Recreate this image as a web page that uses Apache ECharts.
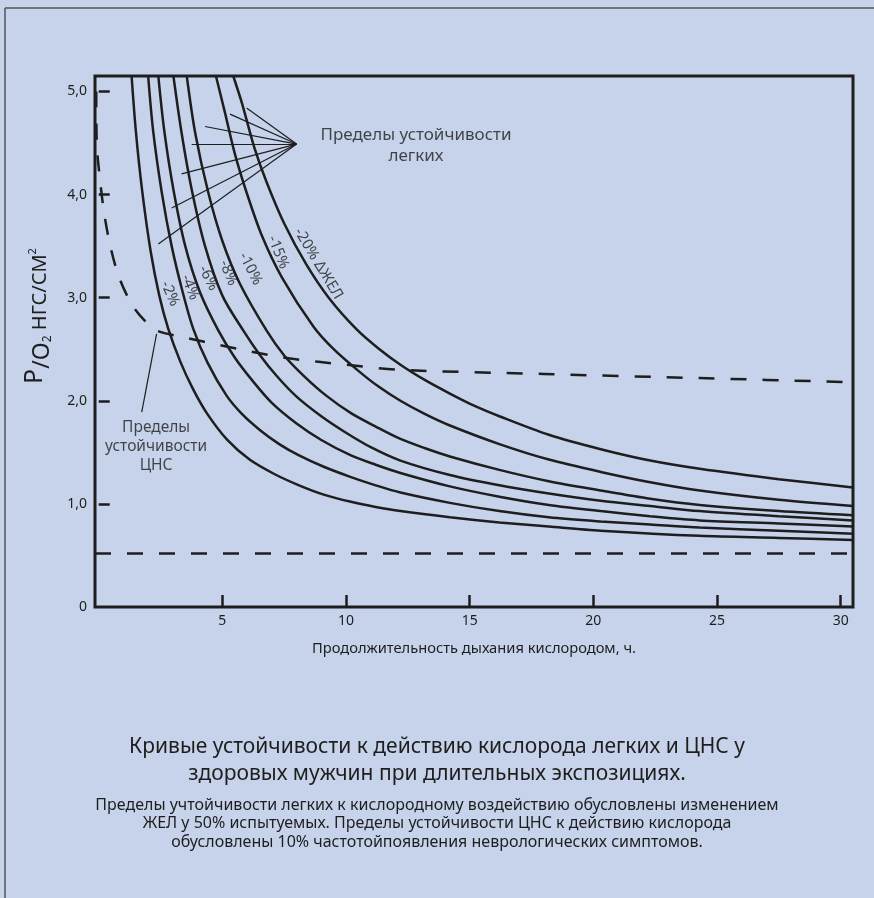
<!DOCTYPE html>
<html>
<head>
<meta charset="utf-8">
<script src="https://cdn.jsdelivr.net/npm/echarts@6/dist/echarts.min.js"></script>
<style>
  html, body { margin: 0; padding: 0; background: #c6d3ea; }
  #chart { width: 874px; height: 898px; }
</style>
</head>
<body>
<div id="chart"></div>
<script>
// ticks
const xTicks = [5, 10, 15, 20, 25, 30];
const yTicks = [0, 1, 2, 3, 4, 5];

// lung tolerance curves (hours, kgf/cm2)
const vc2 = [[1.33,5.15],[1.5,4.62],[1.75,4.05],[2.1,3.45],[2.45,3.02],[2.81,2.7],[3.3,2.38],[3.8,2.12],[4.37,1.88],[5.2,1.62],[6.1,1.43],[7.1,1.29],[8.1,1.18],[9.1,1.09],[10.2,1.02],[11.2,0.97],[12.2,0.93],[14.2,0.87],[16.2,0.82],[18.2,0.78],[20.3,0.74],[24.3,0.69],[27.5,0.67],[30.5,0.65]];
const vc4 = [[2.0,5.15],[2.2,4.62],[2.55,4.02],[2.95,3.5],[3.4,3.05],[3.82,2.7],[4.4,2.37],[5.17,2.05],[5.8,1.87],[6.5,1.72],[7.3,1.58],[8.1,1.47],[9.1,1.36],[10.2,1.26],[11.2,1.18],[12.2,1.11],[14.2,1.01],[16.2,0.93],[18.2,0.87],[20.3,0.83],[22.3,0.8],[24.3,0.77],[27.5,0.74],[30.5,0.71]];
const vc6 = [[2.41,5.15],[2.65,4.62],[3.02,4.05],[3.5,3.5],[4.1,3.05],[4.84,2.68],[5.5,2.42],[6.2,2.2],[7.0,1.98],[8.0,1.78],[9.0,1.62],[10.2,1.47],[11.2,1.38],[12.2,1.3],[14.2,1.17],[16.2,1.07],[18.2,0.99],[20.3,0.93],[22.3,0.88],[24.3,0.84],[27.5,0.81],[30.5,0.78]];
const vc8 = [[3.02,5.15],[3.35,4.6],[3.76,4.05],[4.3,3.5],[5.0,3.02],[5.85,2.68],[6.5,2.45],[7.2,2.24],[8.0,2.04],[9.0,1.85],[10.0,1.69],[11.0,1.55],[12.2,1.42],[14.2,1.28],[16.2,1.18],[18.2,1.1],[20.3,1.03],[22.3,0.98],[24.3,0.93],[27.5,0.88],[30.5,0.84]];
const vc10 = [[3.56,5.15],[3.9,4.6],[4.43,4.02],[5.0,3.55],[5.7,3.14],[6.79,2.68],[7.5,2.44],[8.3,2.24],[9.2,2.05],[10.2,1.88],[11.2,1.75],[12.2,1.63],[13.2,1.54],[14.2,1.46],[16.2,1.33],[18.2,1.22],[20.3,1.13],[22.3,1.05],[24.3,0.99],[27.5,0.93],[30.5,0.89]];
const vc15 = [[4.74,5.15],[5.1,4.8],[5.5,4.4],[5.98,4.02],[6.6,3.6],[7.4,3.2],[8.68,2.72],[9.5,2.5],[10.5,2.29],[11.3,2.14],[12.2,2.0],[13.2,1.87],[14.2,1.76],[16.2,1.58],[18.2,1.43],[20.3,1.31],[22.3,1.21],[24.3,1.13],[27.5,1.04],[30.5,0.98]];
const vc20 = [[5.44,5.15],[5.8,4.88],[6.3,4.45],[6.79,4.12],[7.5,3.72],[8.4,3.32],[9.3,3.0],[10.4,2.7],[11.3,2.51],[12.2,2.35],[13.2,2.2],[14.2,2.07],[15.2,1.95],[16.2,1.85],[18.2,1.67],[20.3,1.53],[22.3,1.42],[24.3,1.34],[27.5,1.24],[30.5,1.16]];
const lungCurves = [vc2, vc4, vc6, vc8, vc10, vc15, vc20];
const curveNames = ['-2%', '-4%', '-6%', '-8%', '-10%', '-15%', '-20% ΔЖЕЛ'];
const curveLabelAt = [[2.88,3.04],[3.69,3.1],[4.43,3.19],[5.24,3.24],[6.13,3.28],[7.26,3.44],[8.88,3.33]];
const curveLabelAngle = [-66, -69, -63, -68, -63, -68, -59];

// CNS tolerance curve
const cns = [[-0.1,5.0],[-0.08,4.5],[0.05,4.15],[0.22,3.82],[0.47,3.5],[0.82,3.2],[1.35,2.93],[1.85,2.78],[2.35,2.68],[3.55,2.61],[4.9,2.54],[6.1,2.48],[7.45,2.42],[8.8,2.38],[10,2.35],[12.2,2.3],[18,2.26],[24.3,2.22],[30.5,2.18]];
// lower limit
const baseLine = [[-0.15,0.52],[30.5,0.52]];

// pointers
const lungApex = [8.0, 4.49];
const lungEnds = [[5.98,4.84],[5.31,4.78],[4.3,4.66],[3.76,4.49],[3.35,4.2],[2.95,3.87],[2.41,3.52]];
const cnsPointer = [[2.34,2.65],[1.74,1.89]];
const lungNoteAt = [12.83, 4.47];
const cnsNoteAt = [2.32, 1.56];

const ink = '#1e1e1e';
const chart = echarts.init(document.getElementById('chart'));

const series = lungCurves.map((c, i) => ({
    type: 'line',
    name: curveNames[i],
    data: c,
    smooth: 0.3,
    symbol: 'none',
    lineStyle: { color: ink, width: 2.5 },
    z: 3
}));

series.push({
    type: 'line',
    data: cns,
    smooth: 0.3,
    symbol: 'none',
    lineStyle: { color: ink, width: 2.5, type: [16, 16] }
});
series.push({
    type: 'line',
    data: baseLine,
    symbol: 'none',
    lineStyle: { color: ink, width: 2.5, type: [16, 16] }
});
series.push({
    type: 'lines',
    coordinateSystem: 'cartesian2d',
    data: lungEnds.map(p => ({ coords: [lungApex, p] })).concat([{ coords: cnsPointer }]),
    lineStyle: { color: ink, width: 1.2, opacity: 1 },
    silent: true
});
series.push({
    type: 'scatter',
    symbolSize: 0,
    silent: true,
    data: curveLabelAt.map((p, i) => ({
        value: p,
        label: { rotate: curveLabelAngle[i], formatter: curveNames[i] }
    })),
    label: { show: true, position: 'inside', color: ink, fontSize: 15, fontFamily: 'Noto Sans' }
});
series.push({
    type: 'scatter',
    symbolSize: 0,
    silent: true,
    data: [
        { value: lungNoteAt, label: { formatter: 'Пределы устойчивости\nлегких', fontSize: 17 } },
        { value: cnsNoteAt, label: { formatter: 'Пределы\nустойчивости\nЦНС', lineHeight: 19 } }
    ],
    label: { show: true, position: 'inside', color: ink, fontSize: 15.5, lineHeight: 21, align: 'center', fontFamily: 'Noto Sans' }
});

chart.setOption({
    backgroundColor: '#c6d3ea',
    animation: false,
    textStyle: { fontFamily: 'Noto Sans' },
    title: {
        left: 'center',
        top: 729,
        text: 'Кривые устойчивости к действию кислорода легких и ЦНС у\nздоровых мужчин при длительных экспозициях.',
        textStyle: { color: ink, fontSize: 21, fontWeight: 'normal', lineHeight: 27, fontFamily: 'Noto Sans' },
        subtext: 'Пределы учтойчивости легких к кислородному воздействию обусловлены изменением\nЖЕЛ у 50% испытуемых. Пределы устойчивости ЦНС к действию кислорода\nобусловлены 10% частотойпоявления неврологических симптомов.',
        subtextStyle: { color: ink, fontSize: 16, lineHeight: 18.5, fontFamily: 'Noto Sans' },
        itemGap: 8
    },
    grid: {
        left: 95, right: 21, top: 76, bottom: 291,
        show: true, borderColor: ink, borderWidth: 3
    },
    xAxis: {
        type: 'value',
        min: -0.15,
        max: 30.5,
        name: 'Продолжительность дыхания кислородом, ч.',
        nameLocation: 'middle',
        nameGap: 34,
        nameTextStyle: { color: ink, fontSize: 14.7 },
        axisLine: { show: false },
        splitLine: { show: false },
        axisTick: { show: true, inside: true, length: 12, customValues: xTicks, lineStyle: { color: ink, width: 2.5 } },
        axisLabel: { customValues: xTicks, color: ink, fontSize: 14, margin: 7 }
    },
    yAxis: {
        type: 'value',
        min: 0,
        max: 5.15,
        axisLine: { show: false },
        splitLine: { show: false },
        axisTick: { show: true, inside: true, length: 11, customValues: yTicks.slice(1), lineStyle: { color: ink, width: 2.5 } },
        axisLabel: {
            customValues: yTicks, color: ink, fontSize: 14, margin: 8,
            formatter: v => v === 0 ? '0' : v.toFixed(1).replace('.', ',')
        }
    },
    graphic: [
        { type: 'line', shape: { x1: 5, y1: 8, x2: 874, y2: 8 }, style: { stroke: '#555', lineWidth: 1.5 } },
        { type: 'line', shape: { x1: 5, y1: 8, x2: 5, y2: 898 }, style: { stroke: '#555', lineWidth: 1.5 } },
        {
            type: 'text', x: 38, y: 316, rotation: Math.PI / 2,
            style: {
                text: '{p|P}{o|/O}{s|2}{u| НГС/СМ}{sup|2}',
                align: 'center', verticalAlign: 'middle', fill: ink,
                rich: {
                    p: { fontSize: 25, verticalAlign: 'bottom', padding: [0, 0, 6, 0], fontFamily: 'Noto Sans' },
                    o: { fontSize: 23, verticalAlign: 'bottom', fontFamily: 'Noto Sans' },
                    s: { fontSize: 12, verticalAlign: 'bottom', fontFamily: 'Noto Sans' },
                    u: { fontSize: 20, verticalAlign: 'bottom', padding: [0, 0, 3, 0], fontFamily: 'Noto Sans' },
                    sup: { fontSize: 11, verticalAlign: 'bottom', padding: [0, 0, 15, 0], fontFamily: 'Noto Sans' }
                }
            }
        }
    ],
    series: series
});
</script>
</body>
</html>
